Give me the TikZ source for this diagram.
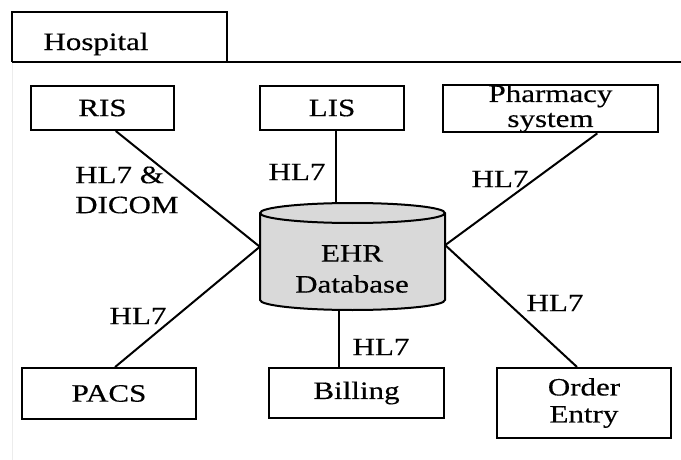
\documentclass[tikz,border=0pt]{standalone}
\usepackage{fontspec}
\setmainfont{Liberation Serif}[FakeStretch=1.24,FakeBold=0.4]
\usetikzlibrary{calc}

\begin{document}
\begin{tikzpicture}[x=1pt,y=-1pt,
  font=\fontsize{25}{29}\selectfont,
  sysbox/.style={draw, line width=2pt, inner sep=0pt, align=center},
  link/.style={line width=2pt},
  proto/.style={inner sep=0pt, align=left}]
\useasboundingbox (0,0) rectangle (681,460);

\draw[gray!15, line width=1pt] (12,62)--(12,460);
\draw[line width=2pt] (12,62)--(12,12)--(227,12)--(227,62);
\draw[line width=2pt] (12,62)--(681,62);
\node[proto] (hosp) at (96,44) {Hospital};

\node[sysbox, minimum width=143, minimum height=44] (ris) at (102.5,108) {RIS};
\node[sysbox, minimum width=144, minimum height=44] (lis) at (332,108) {LIS};
\node[sysbox, minimum width=215, minimum height=45] (pharm) at (550.5,108.5) {Pharmacy\\[-4pt]system};

\node[minimum width=185, minimum height=107, inner sep=0pt] (ehr) at (352.5,256.5) {};
\filldraw[fill=gray!30, line width=2pt] (260,213) -- (260,300)
  arc[start angle=180, end angle=0, x radius=92.5, y radius=10] -- (445,213)
  arc[start angle=0, end angle=-180, x radius=92.5, y radius=10] -- cycle;
\draw[line width=2pt] (260,213) arc[start angle=180, end angle=0, x radius=92.5, y radius=10];
\node[align=center, inner sep=0pt] (ehrtext) at (352,269) {EHR\\[2pt]Database};

\node[sysbox, minimum width=174, minimum height=51] (pacs) at (109,393.5) {PACS};
\node[sysbox, minimum width=175, minimum height=50] (bill) at (356.5,393) {Billing};
\node[sysbox, minimum width=174, minimum height=70] (order) at (584,403) {Order\\[-2pt]Entry};

\draw[link] (ris.-60) -- (ehr.174);
\draw[link] ([xshift=4pt]lis.south) -- ([xshift=4pt]lis.south |- ehr.north);
\draw[link] (pharm.-28) -- (ehr.7);
\draw[link] (pacs.77) -- (ehr.174);
\draw[link] ([xshift=-18pt]bill.north) -- ([xshift=-18pt]bill.north |- ehr.south);
\draw[link] (order.101) -- (ehr.7);

\node[proto, anchor=west] (l1) at (75,190) {HL7 \&\\[1pt]DICOM};
\node[proto] (l2) at (297,172) {HL7};
\node[proto] (l3) at (500,179) {HL7};
\node[proto] (l4) at (138,316) {HL7};
\node[proto] (l5) at (381,347) {HL7};
\node[proto] (l6) at (555,303) {HL7};
\end{tikzpicture}
\end{document}
